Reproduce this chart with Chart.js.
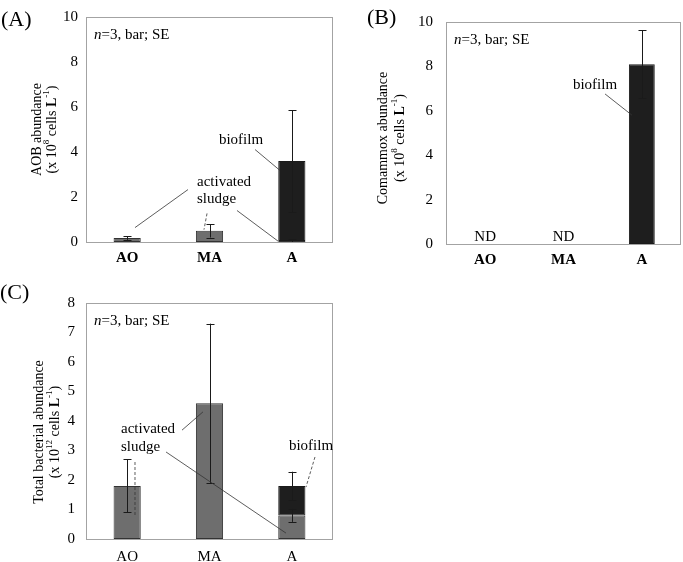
<!DOCTYPE html>
<html><head><meta charset="utf-8">
<script src="https://cdn.jsdelivr.net/npm/chart.js@4.4.1/dist/chart.umd.min.js"></script>
<style>
body{margin:0;background:#fff;width:683px;height:562px;position:relative;overflow:hidden;font-family:"Liberation Serif","Times New Roman",serif;}
canvas{position:absolute;}
.lab{position:absolute;font-size:22px;line-height:22px;color:#000;font-family:"Liberation Serif",serif;}
</style></head><body>
<canvas id="cA" style="left:0;top:0" width="340" height="270"></canvas>
<canvas id="cB" style="left:340px;top:0" width="343" height="270"></canvas>
<canvas id="cC" style="left:0;top:270px" width="340" height="292"></canvas>
<div class="lab" style="left:1px;top:8px">(A)</div>
<div class="lab" style="left:367px;top:6px">(B)</div>
<div class="lab" style="left:0px;top:281px">(C)</div>
<script>
// ---- data ----
const categories = ["AO", "MA", "A"];
const aobSludge = [0.18, 0.50, 0.05];
const aobSludgeSE = [0.085, 0.30, 0.08];
const aobBiofilm = [null, null, 3.55];
const aobBiofilmSE = [null, null, 2.26];
const comSludge = [null, null, null];       // ND, ND
const comSludgeSE = [null, null, null];
const comBiofilm = [null, null, 8.1];
const comBiofilmSE = [null, null, 1.52];
const totSludge = [1.8, 4.6, 0.8];
const totSludgeSE = [0.9, 2.7, 0.22];
const totBiofilm = [null, null, 1.0];
const totBiofilmSE = [null, null, 0.48];
const ndLabels = ["ND", "ND", null];

const FONT = '"Liberation Serif","Times New Roman",serif';
const SLUDGE = '#6e6e6e', BIOFILM = '#1e1e1e';

function fontStr(s, size){
  return (s.italic ? 'italic ' : '') + (s.bold ? 'bold ' : '') + size + 'px ' + FONT;
}
function segSize(s, size){ return s.sup ? Math.round(size * 0.66) : size; }
function richWidth(ctx, segs, size){
  let w = 0;
  segs.forEach(s => { ctx.font = fontStr(s, segSize(s, size)); w += ctx.measureText(s.t).width; });
  return w;
}
function drawRich(ctx, segs, x, y, size, align){
  const w = richWidth(ctx, segs, size);
  let cx = align === 'center' ? x - w / 2 : (align === 'right' ? x - w : x);
  ctx.textBaseline = 'middle';
  ctx.textAlign = 'left';
  segs.forEach(s => {
    const sz = segSize(s, size);
    ctx.font = fontStr(s, sz);
    ctx.fillText(s.t, cx, s.sup ? y - size * 0.36 : y);
    cx += ctx.measureText(s.t).width;
  });
}

const framePlugin = {
  id: 'frame',
  beforeDatasetsDraw(chart){
    const {ctx, chartArea: a} = chart;
    ctx.save();
    ctx.strokeStyle = '#a3a3a3';
    ctx.lineWidth = 1;
    ctx.strokeRect(Math.round(a.left) + 0.5, Math.round(a.top) + 0.5, Math.round(a.right - a.left) - 1, Math.round(a.bottom - a.top));
    ctx.restore();
  }
};

const errorPlugin = {
  id: 'errbars',
  afterDatasetsDraw(chart){
    const {ctx, chartArea: a} = chart;
    const ys = chart.scales.y;
    ctx.save();
    ctx.beginPath();
    ctx.rect(a.left, a.top - 1, a.right - a.left, a.bottom - a.top + 1);
    ctx.clip();
    ctx.strokeStyle = '#1a1a1a';
    ctx.lineWidth = 1;
    chart.data.datasets.forEach((ds, di) => {
      const meta = chart.getDatasetMeta(di);
      (ds.se || []).forEach((se, j) => {
        if (se == null || ds.data[j] == null) return;
        let cum = 0;
        for (let k = 0; k <= di; k++) cum += chart.data.datasets[k].data[j] || 0;
        const x = Math.round(meta.data[j].x) + 0.5;
        const yT = ys.getPixelForValue(cum + se);
        const yB = ys.getPixelForValue(cum - se);
        ctx.beginPath();
        ctx.moveTo(x, yT); ctx.lineTo(x, yB);
        ctx.moveTo(x - 4, Math.round(yT) + 0.5); ctx.lineTo(x + 4, Math.round(yT) + 0.5);
        ctx.moveTo(x - 4, Math.round(yB) + 0.5); ctx.lineTo(x + 4, Math.round(yB) + 0.5);
        ctx.stroke();
      });
    });
    ctx.restore();
  }
};

const annotPlugin = {
  id: 'annot',
  afterDraw(chart, args, opts){
    const {ctx, chartArea: a} = chart;
    const xs = chart.scales.x, ys = chart.scales.y;
    const px = p => [xs.getPixelForValue(p[0]), ys.getPixelForValue(p[1])];
    ctx.save();
    ctx.fillStyle = '#000';
    // y title
    if (opts.ytitle){
      const t = opts.ytitle;
      const cy = (a.top + a.bottom) / 2 + (t.dy || 0);
      t.lines.forEach((segs, k) => {
        ctx.save();
        ctx.translate(a.left + t.dx[k], cy);
        ctx.rotate(-Math.PI / 2);
        drawRich(ctx, segs, 0, 0, 14, 'center');
        ctx.restore();
      });
    }
    // note
    drawRich(ctx, [{t: 'n', italic: true}, {t: '=3, bar; SE'}], a.left + 8, a.top + 18, 15, 'left');
    // leader lines
    ctx.strokeStyle = '#333';
    ctx.lineWidth = 0.8;
    (opts.lines || []).forEach(l => {
      const p1 = px(l.from), p2 = px(l.to);
      ctx.setLineDash(l.dash ? [3, 2] : []);
      ctx.beginPath(); ctx.moveTo(p1[0], p1[1]); ctx.lineTo(p2[0], p2[1]); ctx.stroke();
    });
    ctx.setLineDash([]);
    // texts
    (opts.texts || []).forEach(t => {
      const p = px(t.at);
      drawRich(ctx, [{t: t.t}], p[0], p[1], 15, t.align || 'center');
    });
    ctx.restore();
  }
};

function makeChart(id, sludge, sludgeSE, biofilm, biofilmSE, yMax, yStep, cfg){
  return new Chart(document.getElementById(id), {
    type: 'bar',
    data: {
      labels: categories,
      datasets: [
        {label: 'activated sludge', data: sludge, se: sludgeSE, backgroundColor: SLUDGE, borderColor: '#333', borderWidth: 1, borderSkipped: false},
        {label: 'biofilm', data: biofilm, se: biofilmSE, backgroundColor: BIOFILM, borderColor: '#1a1a1a', borderWidth: 1, borderSkipped: false}
      ]
    },
    options: {
      responsive: false,
      animation: false,
      devicePixelRatio: 1,
      layout: {padding: cfg.padding},
      datasets: {bar: {categoryPercentage: 1, barPercentage: 0.33}},
      plugins: {
        legend: {display: false},
        tooltip: {enabled: false},
        annot: cfg.annot
      },
      scales: {
        x: {
          stacked: true,
          grid: {display: false, drawTicks: false},
          border: {display: false},
          ticks: {color: '#000', padding: cfg.xPad, font: {family: FONT, size: 15, weight: cfg.xBold ? 'bold' : 'normal'}},
          afterFit: s => { s.height = cfg.xH; }
        },
        y: {
          stacked: true,
          min: 0, max: yMax,
          grid: {display: false, drawTicks: false},
          border: {display: false},
          ticks: {stepSize: yStep, color: '#000', padding: cfg.yPad, font: {family: FONT, size: 15}},
          afterFit: s => { s.width = cfg.yW; }
        }
      }
    },
    plugins: [framePlugin, errorPlugin, annotPlugin]
  });
}

const unitLine = (exp) => [{t: '(x 10'}, {t: exp, sup: true}, {t: ' cells '}, {t: 'L', bold: true}, {t: '-1', sup: true}, {t: ')'}];

makeChart('cA', aobSludge, aobSludgeSE, aobBiofilm, aobBiofilmSE, 10, 2, {
  padding: {top: 6, right: 7, left: 0, bottom: 0},
  xH: 28, yW: 86, xPad: 7, yPad: 8, xBold: true,
  annot: {
    ytitle: {lines: [[{t: 'AOB abundance'}], unitLine('8')], dx: [-49, -34], dy: 0},
    texts: [
      {t: 'biofilm', at: [1.383, 4.53]},
      {t: 'activated', at: [0.848, 2.67], align: 'left'},
      {t: 'sludge', at: [0.848, 1.91], align: 'left'}
    ],
    lines: [
      {from: [1.553, 4.11], to: [1.856, 3.18]},
      {from: [0.739, 2.33], to: [0.095, 0.64]},
      {from: [0.97, 1.27], to: [0.933, 0.55], dash: true},
      {from: [1.334, 1.40], to: [1.832, 0.04]}
    ]
  }
});

makeChart('cB', comSludge, comSludgeSE, comBiofilm, comBiofilmSE, 10, 2, {
  padding: {top: 6, right: 2, left: 0, bottom: 0},
  xH: 26, yW: 106, xPad: 7, yPad: 13, xBold: true,
  annot: {
    ytitle: {lines: [[{t: 'Comammox abundance'}], unitLine('8')], dx: [-63, -46], dy: 5},
    texts: [
      {t: 'biofilm', at: [1.402, 7.18]},
      {t: ndLabels[0], at: [0, 0.3]},
      {t: ndLabels[1], at: [1, 0.3]}
    ],
    lines: [
      {from: [1.53, 6.76], to: [1.875, 5.80]}
    ]
  }
});

makeChart('cC', totSludge, totSludgeSE, totBiofilm, totBiofilmSE, 8, 1, {
  padding: {top: 33, right: 7, left: 0, bottom: 0},
  xH: 23, yW: 86, xPad: 9, yPad: 11, xBold: false,
  annot: {
    ytitle: {lines: [[{t: 'Total bacterial abundance'}], unitLine('12')], dx: [-47, -31], dy: 11},
    texts: [
      {t: 'activated', at: [-0.075, 3.73], align: 'left'},
      {t: 'sludge', at: [-0.075, 3.12], align: 'left'},
      {t: 'biofilm', at: [2.233, 3.15]}
    ],
    lines: [
      {from: [0.666, 3.69], to: [0.921, 4.31]},
      {from: [0.095, 2.61], to: [0.095, 0.81], dash: true},
      {from: [0.472, 2.95], to: [1.929, 0.20]},
      {from: [2.281, 2.78], to: [2.172, 1.76], dash: true}
    ]
  }
});
</script>
</body></html>
